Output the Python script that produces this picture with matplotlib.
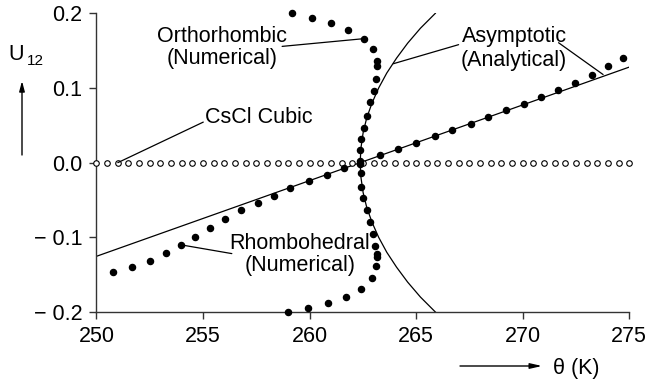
import matplotlib
matplotlib.use("Agg")
import matplotlib.pyplot as plt

plt.rcParams["font.family"] = ["Liberation Sans", "DejaVu Sans"]

# ---- data -------------------------------------------------------------
# CsCl cubic phase: U12 = 0 at every temperature
cubic_theta = [250.0, 250.5, 251.0, 251.5, 252.0, 252.5, 253.0, 253.5, 254.0, 254.5,
               255.0, 255.5, 256.0, 256.5, 257.0, 257.5, 258.0, 258.5, 259.0, 259.5,
               260.0, 260.5, 261.0, 261.5, 262.0, 262.5, 263.0, 263.5, 264.0, 264.5,
               265.0, 265.5, 266.0, 266.5, 267.0, 267.5, 268.0, 268.5, 269.0, 269.5,
               270.0, 270.5, 271.0, 271.5, 272.0, 272.5, 273.0, 273.5, 274.0, 274.5,
               275.0]
cubic_u = [0.0] * len(cubic_theta)

# Orthorhombic branch (numerical), upper bend
ortho_theta = [259.16, 260.10, 261.00, 261.82, 262.53, 262.97, 263.15, 263.18,
               263.12, 263.00, 262.84, 262.68, 262.53, 262.40, 262.37, 262.37]
ortho_u = [0.200, 0.194, 0.1865, 0.1775, 0.166, 0.152, 0.136, 0.129,
           0.112, 0.096, 0.081, 0.063, 0.047, 0.032, 0.0165, 0.002]

# Rhombohedral branch (numerical), lower bend
rhombo_theta = [262.37, 262.40, 262.40, 262.50, 262.68, 262.84, 262.97, 263.07,
                263.15, 263.18, 263.12, 262.92, 262.42, 261.70, 260.84, 259.93, 259.00]
rhombo_u = [-0.002, -0.014, -0.032, -0.048, -0.063, -0.0795, -0.095, -0.111,
            -0.122, -0.127, -0.139, -0.155, -0.169, -0.180, -0.188, -0.1946, -0.200]

# Numerical solutions following the asymptotic line
lin_theta = [250.76, 251.65, 252.51, 253.26, 253.95, 254.64, 255.33, 256.03, 256.80,
             257.57, 258.32, 259.08, 259.99, 260.81, 261.62, 262.37, 263.31, 264.17,
             265.00, 265.87, 266.70, 267.57, 268.39, 269.23, 270.06, 270.87, 271.67,
             272.47, 273.25, 273.98, 274.69]
lin_u = [-0.147, -0.140, -0.132, -0.121, -0.110, -0.099, -0.087, -0.0755, -0.064,
         -0.054, -0.044, -0.034, -0.025, -0.016, -0.007, 0.0, 0.0107, 0.018,
         0.0268, 0.0355, 0.0436, 0.052, 0.0606, 0.070, 0.079, 0.088, 0.0977,
         0.107, 0.1178, 0.129, 0.140]

# Asymptotic (analytical) straight line
asym_theta = [250.0, 275.0]
asym_u = [-0.1254, 0.128]

# Asymptotic (analytical) curve through the transition point
curve_u = [-0.20, -0.18, -0.16, -0.14, -0.12, -0.10, -0.08, -0.06, -0.04, -0.02, 0.0,
           0.02, 0.04, 0.06, 0.08, 0.10, 0.12, 0.14, 0.16, 0.18, 0.20]
curve_theta = [265.90, 265.20, 264.60, 264.08, 263.62, 263.24, 262.93, 262.68, 262.51,
               262.41, 262.37, 262.41, 262.51, 262.68, 262.93, 263.24, 263.62, 264.08,
               264.60, 265.20, 265.90]

x_ticks = [250, 255, 260, 265, 270, 275]
x_tick_labels = ["250", "255", "260", "265", "270", "275"]
y_ticks = [-0.2, -0.1, 0.0, 0.1, 0.2]
y_tick_labels = ["\u2212 0.2", "\u2212 0.1", "0.0", "0.1", "0.2"]

# ---- figure -----------------------------------------------------------
W, H = 650, 381
fig = plt.figure(figsize=(W / 100, H / 100), dpi=100)
left_px, right_px, top_px, bottom_px = 96.5, 629.3, 13.3, 312.0
ax = fig.add_axes([left_px / W, 1 - bottom_px / H,
                   (right_px - left_px) / W, (bottom_px - top_px) / H])

ax.set_xlim(250, 275)
ax.set_ylim(-0.2, 0.2)
for side in ("top", "right"):
    ax.spines[side].set_visible(False)
for side in ("left", "bottom"):
    ax.spines[side].set_linewidth(1.0)
    ax.spines[side].set_color("#333333")

ax.set_xticks(x_ticks)
ax.set_xticklabels(x_tick_labels)
ax.set_yticks(y_ticks)
ax.set_yticklabels(y_tick_labels)
ax.tick_params(direction="out", length=5, width=1.0, color="#333333",
               labelsize=15.5, pad=5, labelcolor="black")

ax.plot(asym_theta, asym_u, color="black", lw=0.9, zorder=2)
ax.plot(curve_theta, curve_u, color="black", lw=0.9, zorder=2)

ax.plot(cubic_theta, cubic_u, linestyle="none", marker="o", ms=4.0,
        mfc="white", mec="black", mew=0.8, clip_on=False, zorder=3)

dot_style = dict(linestyle="none", marker="o", ms=4.4, color="black",
                 clip_on=False, zorder=4)
ax.plot(ortho_theta, ortho_u, **dot_style)
ax.plot(rhombo_theta, rhombo_u, **dot_style)
ax.plot(lin_theta, lin_u, **dot_style)

# ---- labels and leaders -------------------------------------------------
fs = 15.5
ax.text(255.89, 0.161, "Orthorhombic", ha="center", va="baseline", fontsize=fs)
ax.text(255.89, 0.1316, "(Numerical)", ha="center", va="baseline", fontsize=fs)
ax.text(269.6, 0.1615, "Asymptotic", ha="center", va="baseline", fontsize=fs)
ax.text(269.6, 0.130, "(Analytical)", ha="center", va="baseline", fontsize=fs)
ax.text(255.09, 0.053, "CsCl Cubic", ha="left", va="baseline", fontsize=fs)
ax.text(259.55, -0.115, "Rhombohedral", ha="center", va="baseline", fontsize=fs)
ax.text(259.55, -0.145, "(Numerical)", ha="center", va="baseline", fontsize=fs)

leader = dict(arrowstyle="-", lw=0.9, color="black", shrinkA=0, shrinkB=0)
ax.annotate("", xy=(ortho_theta[4], ortho_u[4]), xytext=(258.71, 0.1557),
            arrowprops=leader)
ax.annotate("", xy=(263.93, 0.1325), xytext=(266.99, 0.158),
            arrowprops=leader)
ax.annotate("", xy=(273.77, 0.118), xytext=(271.68, 0.1606), arrowprops=leader)
ax.annotate("", xy=(cubic_theta[2], cubic_u[2]), xytext=(255.01, 0.0543),
            arrowprops=leader)
ax.annotate("", xy=(lin_theta[4], lin_u[4]), xytext=(256.35, -0.1218),
            arrowprops=leader)

# axis captions with direction arrows
fig.text(8 / W, 1 - 60 / H, "U", fontsize=fs, ha="left", va="baseline")
fig.text(27 / W, 1 - 65 / H, "12", fontsize=11, ha="left", va="baseline")
fig.add_artist(matplotlib.patches.FancyArrowPatch(
    (22 / W, 1 - 155 / H), (22 / W, 1 - 81 / H), transform=fig.transFigure,
    arrowstyle="-|>,head_length=6,head_width=1.6", lw=1.0, color="black",
    shrinkA=0, shrinkB=0))

fig.text(553 / W, 1 - 374 / H, "\u03b8 (K)", fontsize=fs, ha="left", va="baseline")
fig.add_artist(matplotlib.patches.FancyArrowPatch(
    (460 / W, 1 - 366 / H), (542 / W, 1 - 366 / H), transform=fig.transFigure,
    arrowstyle="-|>,head_length=7,head_width=1.6", lw=1.0, color="black",
    shrinkA=0, shrinkB=0))

fig.savefig("out.png", dpi=100)
